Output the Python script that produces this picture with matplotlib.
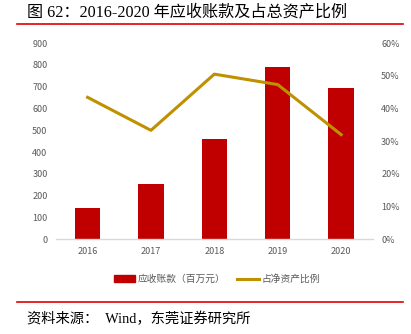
import matplotlib
matplotlib.use("Agg")
import matplotlib.pyplot as plt
from matplotlib.lines import Line2D
from matplotlib.patches import Patch

plt.rcParams['font.family'] = ['Noto Sans CJK SC', 'DejaVu Sans']

years = ['2016', '2017', '2018', '2019', '2020']
receivables = [144, 252, 462, 792, 696]
ratio_pct = [43.4, 33.3, 50.5, 47.3, 32.0]
left_ticks = [0, 100, 200, 300, 400, 500, 600, 700, 800, 900]
right_ticks = [0, 10, 20, 30, 40, 50, 60]

title = '图 62：2016-2020 年应收账款及占总资产比例'
source = '资料来源：  Wind，东莞证券研究所'
bar_label = '应收账款（百万元）'
line_label = '占净资产比例'

bar_color = '#C00000'
line_color = '#BF9000'
tick_color = '#595959'

fig = plt.figure(figsize=(4.11, 3.34), dpi=100)
ax = fig.add_axes([0.136, 0.284, 0.771, 0.587])
x = range(len(years))
ax.bar(x, receivables, width=0.4, color=bar_color, zorder=2)
ax.set_xlim(-0.5, len(years) - 0.5)
ax.set_ylim(0, 900)
ax.set_yticks(left_ticks)
ax.set_xticks(list(x))
ax.set_xticklabels(years)
for s in ['top', 'right', 'left']:
    ax.spines[s].set_visible(False)
ax.spines['bottom'].set_color('#D9D9D9')
ax.spines['bottom'].set_linewidth(1.0)
ax.tick_params(axis='both', length=0, labelsize=6.5, colors=tick_color, pad=6)

ax2 = ax.twinx()
ax2.plot(list(x), ratio_pct, color=line_color, linewidth=2.2, zorder=3)
ax2.set_ylim(0, 60)
ax2.set_yticks(right_ticks)
ax2.set_yticklabels([f'{t}%' for t in right_ticks])
for s in ['top', 'right', 'left', 'bottom']:
    ax2.spines[s].set_visible(False)
ax2.tick_params(axis='y', length=0, labelsize=6.5, colors=tick_color, pad=6)

handles = [Patch(color=bar_color), Line2D([0], [0], color=line_color, linewidth=2.2)]
fig.legend(handles, [bar_label, line_label], loc='center', bbox_to_anchor=(217 / 411, 1 - 279 / 334),
           ncol=2, frameon=False, fontsize=7, labelcolor=tick_color,
           handlelength=2.2, handletextpad=0.3, columnspacing=1.2)

fig.text(27 / 411, 1 - 12 / 334, title, fontsize=11.6, va='center', ha='left',
         family=['Liberation Serif', 'Noto Sans CJK SC'], color='#000000')
fig.add_artist(Line2D([17 / 411, 403 / 411], [1 - 23.7 / 334] * 2, color='#E00000', linewidth=1.2))
fig.add_artist(Line2D([17 / 411, 403 / 411], [1 - 302 / 334] * 2, color='#E00000', linewidth=1.2))
fig.text(27 / 411, 1 - 319 / 334, source, fontsize=10.3, va='center', ha='left',
         family=['Liberation Serif', 'Noto Sans CJK SC'], color='#000000')

fig.savefig('out.png', dpi=100)
